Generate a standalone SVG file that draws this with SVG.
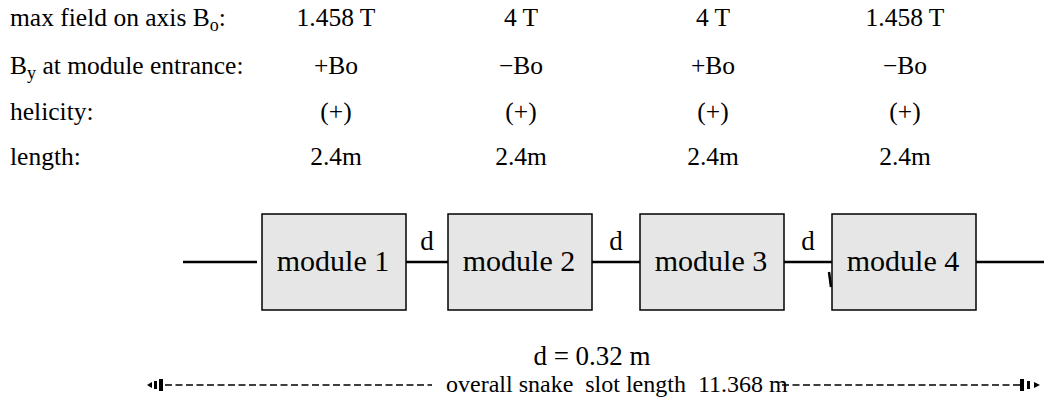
<svg xmlns="http://www.w3.org/2000/svg" width="1044" height="406" viewBox="0 0 1044 406">
  <style>
    text { font-family: "Liberation Serif", "Times New Roman", serif; fill: #000; }
    .tbl { font-size: 25.5px; }
    .col { text-anchor: middle; }
    .sub { font-size: 18px; }
    .mod { font-size: 30px; text-anchor: middle; }
    .gap { font-size: 27px; text-anchor: middle; }
    .note { font-size: 27px; text-anchor: middle; }
    .slot { font-size: 24px; }
    .box { fill: #e6e6e6; stroke: #000; stroke-width: 1.5; }
    .beam { stroke: #000; stroke-width: 2.5; fill: none; }
    .dash { stroke: #000; stroke-width: 1.5; stroke-dasharray: 7 3.5; fill: none; }
  </style>

  <!-- parameter table -->
  <g id="table" class="tbl">
    <text x="10" y="26">max field on axis B<tspan class="sub" dy="5">o</tspan><tspan dy="-5">:</tspan></text>
    <text x="10" y="74">B<tspan class="sub" dy="5">y</tspan><tspan dy="-5"> at module entrance:</tspan></text>
    <text x="10" y="120">helicity:</text>
    <text x="10" y="165">length:</text>

    <g class="col">
      <text x="336" y="26">1.458 T</text>
      <text x="521" y="26">4 T</text>
      <text x="713" y="26">4 T</text>
      <text x="905" y="26">1.458 T</text>

      <text x="336" y="74">+Bo</text>
      <text x="521" y="74">−Bo</text>
      <text x="713" y="74">+Bo</text>
      <text x="905" y="74">−Bo</text>

      <text x="336" y="120">(+)</text>
      <text x="521" y="120">(+)</text>
      <text x="713" y="120">(+)</text>
      <text x="905" y="120">(+)</text>

      <text x="336" y="165">2.4m</text>
      <text x="521" y="165">2.4m</text>
      <text x="713" y="165">2.4m</text>
      <text x="905" y="165">2.4m</text>
    </g>
  </g>

  <!-- beam line and drift spaces -->
  <g id="connectors">
    <line class="beam" x1="183" y1="262" x2="257" y2="262"/>
    <line class="beam" x1="404" y1="262" x2="450" y2="262"/>
    <line class="beam" x1="590" y1="262" x2="642" y2="262"/>
    <line class="beam" x1="782" y1="262" x2="834" y2="262"/>
    <line class="beam" x1="974" y1="262" x2="1044" y2="262"/>
    <line class="beam" x1="829" y1="272" x2="831" y2="287"/>
    <text class="gap" x="427" y="250">d</text>
    <text class="gap" x="616" y="250">d</text>
    <text class="gap" x="808" y="250">d</text>
  </g>

  <!-- snake modules -->
  <g id="module1">
    <rect class="box" x="262" y="214" width="144" height="96"/>
    <text class="mod" x="333" y="271">module 1</text>
  </g>
  <g id="module2">
    <rect class="box" x="448" y="214" width="144" height="96"/>
    <text class="mod" x="519" y="271">module 2</text>
  </g>
  <g id="module3">
    <rect class="box" x="640" y="214" width="144" height="96"/>
    <text class="mod" x="711" y="271">module 3</text>
  </g>
  <g id="module4">
    <rect class="box" x="832" y="214" width="144" height="96"/>
    <text class="mod" x="903" y="271">module 4</text>
  </g>

  <!-- drift length and overall slot length -->
  <g id="dimension">
    <text class="note" x="592" y="365">d = 0.32 m</text>
    <line class="dash" x1="165" y1="385" x2="432" y2="385"/>
    <line class="dash" x1="782" y1="385" x2="1020" y2="385"/>
    <text class="slot" x="446" y="392" xml:space="preserve">overall snake  slot length  11.368 m</text>
    <!-- left arrowhead -->
    <polygon points="147,385 152,382 152,388"/>
    <rect x="154" y="381" width="3" height="8"/>
    <rect x="159" y="379" width="4" height="12"/>
    <!-- right arrowhead -->
    <rect x="1020" y="379" width="4" height="12"/>
    <rect x="1027" y="381" width="3" height="8"/>
    <polygon points="1040,385 1034,382 1034,388"/>
  </g>
</svg>
